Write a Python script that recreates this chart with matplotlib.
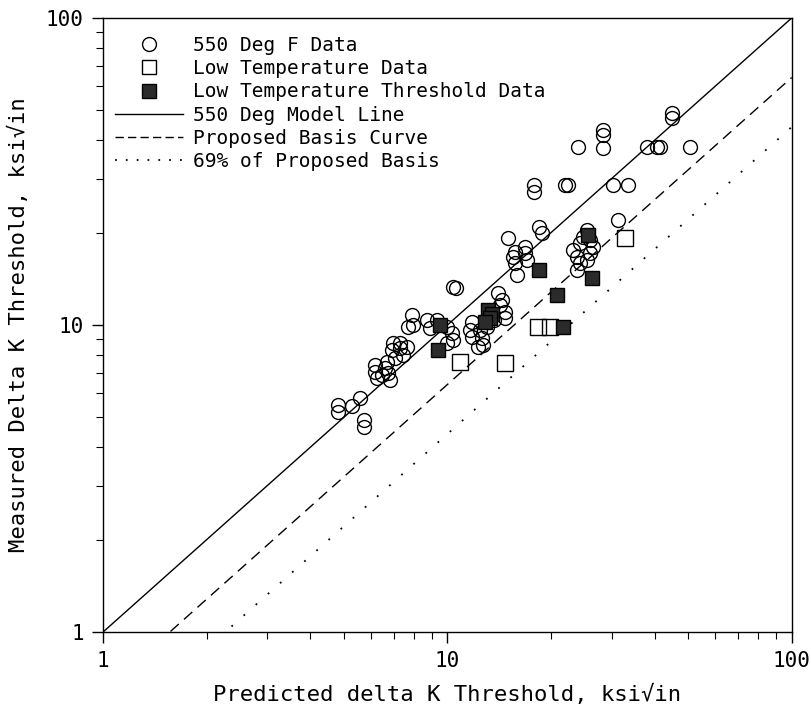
import numpy as np
import matplotlib
matplotlib.use("Agg")
import matplotlib.pyplot as plt
from matplotlib.lines import Line2D
from matplotlib.ticker import LogLocator, FixedLocator, NullFormatter

plt.rcParams['font.family'] = 'DejaVu Sans Mono'

# 550 Deg F data (open circles): predicted, measured
hot_x = [4.81, 4.81, 5.28, 5.57, 5.72, 5.72,
         7.89, 7.94, 7.68, 8.72, 8.90, 9.32, 10.0, 10.3, 10.4, 10.0,
         7.28, 6.95, 6.90, 7.28, 7.63, 7.43, 7.04, 6.67, 6.59, 6.16,
         6.16, 6.24, 6.72, 6.81, 6.45,
         10.4, 10.6,
         14.0, 14.4, 14.2, 14.7, 14.7, 11.8, 11.6, 11.8, 12.4, 12.6,
         12.7, 12.3, 13.0, 13.7,
         15.0, 18.5, 18.8, 15.7, 15.5, 16.8, 16.8, 17.0, 15.7, 15.9,
         25.4, 24.7, 24.2, 23.1, 23.8, 24.2, 23.8, 25.9, 26.4, 25.9, 25.4,
         31.3,
         17.9, 17.9, 21.9, 22.4, 30.2, 33.4, 23.9, 28.3, 28.3, 28.3,
         37.9, 40.6, 41.5, 44.8, 44.8, 50.6]
hot_y = [5.49, 5.20, 5.44, 5.78, 4.91, 4.65,
         10.8, 10.0, 9.85, 10.4, 9.78, 10.4, 9.85, 9.42, 8.94, 8.74,
         8.74, 8.74, 8.29, 8.41, 8.48, 7.98, 7.81, 7.57, 7.24, 7.41,
         7.03, 6.72, 6.98, 6.62, 6.87,
         13.3, 13.2,
         12.7, 12.1, 11.6, 11.0, 10.5, 10.2, 9.63, 9.14, 9.63, 9.07,
         8.60, 8.48, 9.85, 10.4,
         19.2, 20.9, 19.9, 17.3, 16.6, 17.9, 17.1, 16.3, 15.9, 14.5,
         20.4, 19.4, 18.5, 17.6, 16.6, 15.9, 15.1, 18.9, 17.9, 17.2, 16.3,
         22.0,
         28.6, 27.1, 28.6, 28.6, 28.6, 28.6, 38.0, 43.2, 41.5, 37.7,
         38.0, 38.0, 38.0, 49.1, 47.4, 38.0]

# Low temperature data (open squares)
low_x = [10.9, 14.7, 18.3, 19.8, 32.8]
low_y = [7.57, 7.50, 9.85, 9.85, 19.2]

# Low temperature threshold data (filled squares)
thr_x = [9.51, 9.38, 13.1, 13.5, 13.3, 12.9, 18.5, 26.3, 25.6, 20.8, 21.6]
thr_y = [10.0, 8.29, 11.2, 10.9, 10.5, 10.2, 15.1, 14.2, 19.7, 12.5, 9.85]

# reference lines
model_slope = 1.0
basis_slope = 0.64
pct_basis = 0.69

fig = plt.figure(figsize=(8.12, 7.12), dpi=100)
ax = fig.add_axes([0.127, 0.1124, 0.848, 0.8623])

xl = np.array([1.0, 100.0])
ax.plot(xl, model_slope * xl, color='black', lw=1.0)
ax.plot(xl, basis_slope * xl, color='black', lw=1.0, ls=(0, (8, 5)))
ax.plot(xl, pct_basis * basis_slope * xl, color='black', lw=1.3, ls=(0, (1, 8)))

ax.plot(hot_x, hot_y, 'o', ms=10, mfc='none', mec='black', mew=1.0)
ax.plot(low_x, low_y, 's', ms=11, mfc='none', mec='black', mew=1.0)
ax.plot(thr_x, thr_y, 's', ms=10, mfc='#2b2b2b', mec='black', mew=1.0)

ax.set_xscale('log')
ax.set_yscale('log')
ax.set_xlim(1, 100)
ax.set_ylim(1, 100)

ax.xaxis.set_major_locator(FixedLocator([1, 10, 100]))
ax.yaxis.set_major_locator(FixedLocator([1, 10, 100]))
ax.set_xticklabels(['1', '10', '100'])
ax.set_yticklabels(['1', '10', '100'])
ax.xaxis.set_minor_locator(LogLocator(base=10, subs=np.arange(2, 10)))
ax.yaxis.set_minor_locator(LogLocator(base=10, subs=np.arange(2, 10)))
ax.xaxis.set_minor_formatter(NullFormatter())
ax.yaxis.set_minor_formatter(NullFormatter())
ax.tick_params(which='major', direction='out', length=8, width=1.0, labelsize=15, pad=6)
ax.tick_params(which='minor', direction='out', length=5, width=0.8)

for s in ax.spines.values():
    s.set_linewidth(1.0)

ax.set_xlabel('Predicted delta K Threshold, ksi\u221ain', fontsize=16, labelpad=9)
ax.set_ylabel('Measured Delta K Threshold, ksi\u221ain', fontsize=16, labelpad=12)

handles = [
    Line2D([], [], marker='o', ls='none', ms=10, mfc='none', mec='black'),
    Line2D([], [], marker='s', ls='none', ms=10, mfc='none', mec='black'),
    Line2D([], [], marker='s', ls='none', ms=10, mfc='#2b2b2b', mec='black'),
    Line2D([], [], color='black', lw=1.0),
    Line2D([], [], color='black', lw=1.0, ls=(0, (6, 3))),
    Line2D([], [], color='black', lw=1.3, ls=(0, (1, 5))),
]
labels = ['550 Deg F Data', 'Low Temperature Data', 'Low Temperature Threshold Data',
          '550 Deg Model Line', 'Proposed Basis Curve', '69% of Proposed Basis']
ax.legend(handles, labels, loc='upper left', frameon=False, fontsize=14,
          handlelength=3.5, handletextpad=0.5, labelspacing=0.22,
          borderaxespad=0.2, bbox_to_anchor=(0.0, 0.99))

fig.savefig('out.png', dpi=100)
